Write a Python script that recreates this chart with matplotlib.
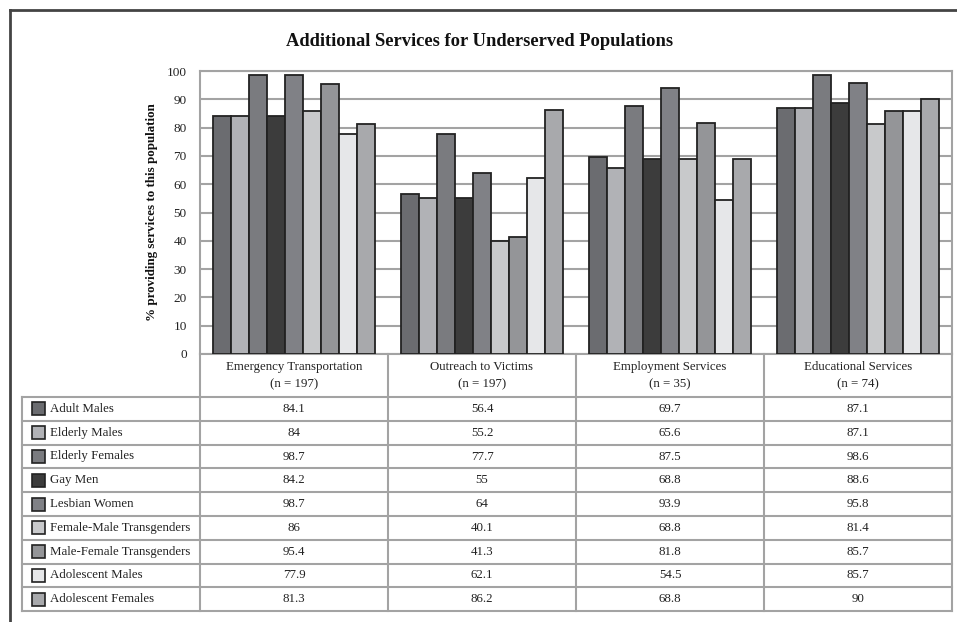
import matplotlib
matplotlib.use("Agg")
import matplotlib.pyplot as plt
from matplotlib.patches import Rectangle
import numpy as np

plt.rcParams['font.family'] = ['Liberation Serif', 'DejaVu Serif']

services = ["Emergency Transportation", "Outreach to Victims", "Employment Services", "Educational Services"]
sample_sizes = ["(n = 197)", "(n = 197)", "(n = 35)", "(n = 74)"]
groups = ["Adult Males", "Elderly Males", "Elderly Females", "Gay Men", "Lesbian Women",
          "Female-Male Transgenders", "Male-Female Transgenders", "Adolescent Males", "Adolescent Females"]
values = [
    [84.1, 56.4, 69.7, 87.1],
    [84, 55.2, 65.6, 87.1],
    [98.7, 77.7, 87.5, 98.6],
    [84.2, 55, 68.8, 88.6],
    [98.7, 64, 93.9, 95.8],
    [86, 40.1, 68.8, 81.4],
    [95.4, 41.3, 81.8, 85.7],
    [77.9, 62.1, 54.5, 85.7],
    [81.3, 86.2, 68.8, 90],
]
labels = [
    ["84.1", "56.4", "69.7", "87.1"],
    ["84", "55.2", "65.6", "87.1"],
    ["98.7", "77.7", "87.5", "98.6"],
    ["84.2", "55", "68.8", "88.6"],
    ["98.7", "64", "93.9", "95.8"],
    ["86", "40.1", "68.8", "81.4"],
    ["95.4", "41.3", "81.8", "85.7"],
    ["77.9", "62.1", "54.5", "85.7"],
    ["81.3", "86.2", "68.8", "90"],
]
colors = ["#6b6c70", "#b1b2b6", "#7a7b7f", "#3c3c3c", "#808186",
          "#c8c9cb", "#949598", "#e6e7e9", "#a8a9ac"]

W, H = 957, 622
grid_c = "#a3a3a3"
txt_c = "#222222"
fig = plt.figure(figsize=(W / 100, H / 100), dpi=100)

# plot area in pixels
px_l, px_r, px_t, px_b = 200, 952, 71, 354
ax = fig.add_axes([px_l / W, 1 - px_b / H, (px_r - px_l) / W, (px_b - px_t) / H])

bw = 0.0957
n = len(groups)
x = np.arange(len(services)) + 0.5
for i in range(n):
    ax.bar(x + (i - (n - 1) / 2) * bw, values[i], width=bw, color=colors[i],
           edgecolor="#222222", linewidth=1.3, zorder=3)

ax.set_xlim(0, len(services))
ax.set_ylim(0, 100)
ax.set_yticks(range(0, 101, 10))
ax.set_xticks([])
ax.yaxis.grid(True, color=grid_c, linewidth=1.5, zorder=0)
ax.tick_params(axis='y', length=0, pad=9.5, labelsize=9.5, labelcolor=txt_c)
for s in ax.spines.values():
    s.set_color(grid_c)
    s.set_linewidth(1.5)
ax.set_ylabel("% providing services to this population", fontsize=9.4, fontweight="bold",
              labelpad=6, color="#111111")

# overlay in pixel coordinates for title, table and frame
ov = fig.add_axes([0, 0, 1, 1])
ov.set_xlim(0, W)
ov.set_ylim(H, 0)
ov.axis("off")
ov.patch.set_alpha(0)

ov.text(480, 41, "Additional Services for Underserved Populations", ha="center", va="center",
        fontsize=13.3, fontweight="bold", color="#111111")

# outer frame
ov.plot([10, W], [10, 10], color="#444444", lw=2)
ov.plot([10, 10], [10, H], color="#444444", lw=2)

col_w = (px_r - px_l) / len(services)
col_x = [px_l + k * col_w for k in range(len(services) + 1)]
head_b = 397
row_h = 23.8
tab_l = 22
rows_y = [head_b + k * row_h for k in range(n + 1)]

# header
for k in range(len(services)):
    cx = (col_x[k] + col_x[k + 1]) / 2
    ov.text(cx, 367, services[k], ha="center", va="center", fontsize=9.3, color=txt_c)
    ov.text(cx, 384, sample_sizes[k], ha="center", va="center", fontsize=9.3, color=txt_c)
for xx in col_x:
    ov.plot([xx, xx], [px_b, rows_y[-1]], color=grid_c, lw=1.5)
ov.plot([tab_l, tab_l], [head_b, rows_y[-1]], color=grid_c, lw=1.5)
for yy in rows_y:
    ov.plot([tab_l, px_r], [yy, yy], color=grid_c, lw=1.5)

# rows
for i in range(n):
    cy = (rows_y[i] + rows_y[i + 1]) / 2
    ov.add_patch(Rectangle((32, cy - 6.5), 13, 13, facecolor=colors[i], edgecolor="#222222", lw=1.2))
    ov.text(50, cy, groups[i], ha="left", va="center", fontsize=9.3, color=txt_c)
    for k in range(len(services)):
        cx = (col_x[k] + col_x[k + 1]) / 2
        ov.text(cx, cy, labels[i][k], ha="center", va="center", fontsize=9.3, color=txt_c)

fig.savefig("out.png", dpi=100)
